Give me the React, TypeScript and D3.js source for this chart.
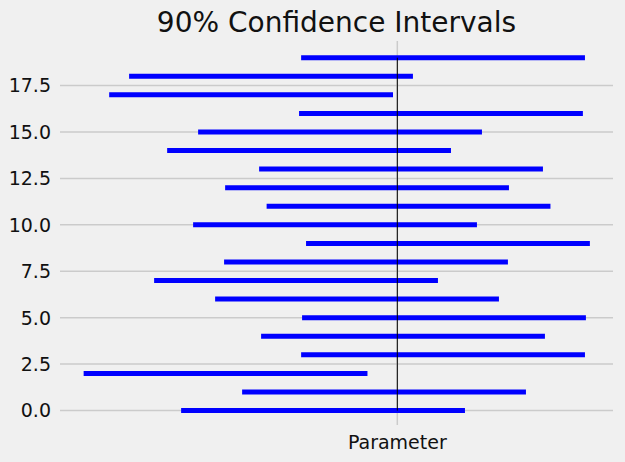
import React from "react";
import * as d3 from "d3";

const rows = d3.range(0, 20);
const lower = [-2.506, -1.799, -3.636, -1.115, -1.579, -1.104, -2.112, -2.819, -2.008, -1.058,
  -2.367, -1.515, -1.996, -1.602, -2.668, -2.309, -1.139, -3.340, -3.109, -1.115];
const upper = [0.784, 1.491, -0.346, 2.175, 1.711, 2.186, 1.178, 0.471, 1.282, 2.232,
  0.923, 1.775, 1.294, 1.688, 0.622, 0.981, 2.151, -0.050, 0.181, 2.175];
const parameter = 0;
const yTicks = [0, 2.5, 5, 7.5, 10, 12.5, 15, 17.5];
const xTickLabels = ["Parameter"];
const title = "90% Confidence Intervals";

const W = 625, H = 462;
const left = 60, right = 613, top = 41, bottom = 425;

export default function App() {
  const x = d3.scaleLinear().domain([-3.91, 2.5]).range([left, right]);
  const y = d3.scaleLinear().domain([-0.78, 19.9]).range([bottom, top]);
  const font = "'DejaVu Sans', sans-serif";
  return (
    <svg width={W} height={H} style={{ position: "absolute", left: 0, top: 0, background: "#f0f0f0" }}>
      <rect x={0} y={0} width={W} height={H} fill="#f0f0f0" />
      {yTicks.map((t) => (
        <g key={t}>
          <line x1={left} x2={right} y1={y(t)} y2={y(t)} stroke="#cbcbcb" strokeWidth={1.5} />
          <text x={51} y={y(t)} dy="0.36em" textAnchor="end" fontFamily={font} fontSize={19} fill="#111">
            {d3.format(".1f")(t)}
          </text>
        </g>
      ))}
      <line x1={x(parameter)} x2={x(parameter)} y1={top} y2={bottom} stroke="#cbcbcb" strokeWidth={1.5} />
      <text x={x(parameter)} y={449} textAnchor="middle" fontFamily={font} fontSize={19} fill="#111">
        {xTickLabels[0]}
      </text>
      {rows.map((r, i) => (
        <line key={r} x1={x(lower[i])} x2={x(upper[i])} y1={y(r)} y2={y(r)} stroke="#0000ff" strokeWidth={5} />
      ))}
      <line x1={x(parameter)} x2={x(parameter)} y1={y(0)} y2={y(19)} stroke="#000" strokeWidth={1} />
      <text x={(left + right) / 2} y={32} textAnchor="middle" fontFamily={font} fontSize={28} fill="#111">
        {title}
      </text>
    </svg>
  );
}
